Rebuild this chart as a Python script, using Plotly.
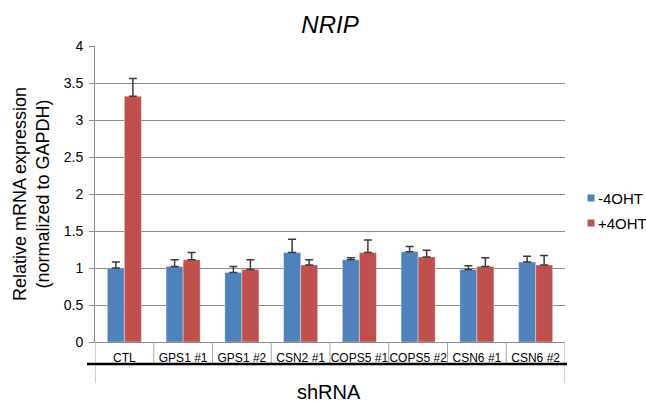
import plotly.graph_objects as go

# shRNA knockdowns and relative NRIP mRNA (normalized to GAPDH)
categories = ["CTL", "GPS1 #1", "GPS1 #2", "CSN2 #1", "COPS5 #1", "COPS5 #2", "CSN6 #1", "CSN6 #2"]
minus_4oht = [1.00, 1.02, 0.94, 1.21, 1.11, 1.22, 0.98, 1.08]
minus_4oht_err = [0.08, 0.09, 0.08, 0.18, 0.03, 0.07, 0.05, 0.08]
plus_4oht = [3.32, 1.11, 0.98, 1.04, 1.21, 1.15, 1.02, 1.04]
plus_4oht_err = [0.24, 0.10, 0.13, 0.07, 0.17, 0.09, 0.12, 0.13]
y_ticks = [0, 0.5, 1, 1.5, 2, 2.5, 3, 3.5, 4]

BLUE = "#4F81BD"
RED = "#C0504D"
FONT = "Liberation Sans, Arial, sans-serif"
GRID = "#8c8c8c"

W, H = 646, 403
ML, MR, MT, MB = 95, 81, 46, 61
PH = H - MT - MB  # plot height in px
PW = W - ML - MR


def py(px):
    """pixel offset below the plot bottom -> paper y"""
    return -px / PH


def errbar(vals):
    return dict(type="data", array=vals, arrayminus=[0] * len(vals), symmetric=False,
                color="#3a3a3a", thickness=1.5, width=4)


fig = go.Figure()
fig.add_trace(go.Bar(x=categories, y=minus_4oht, name="-4OHT", marker_color=BLUE,
                     marker_line=dict(color="rgba(255,255,255,0.35)", width=1),
                     error_y=errbar(minus_4oht_err), showlegend=False))
fig.add_trace(go.Bar(x=categories, y=plus_4oht, name="+4OHT", marker_color=RED,
                     marker_line=dict(color="rgba(255,255,255,0.35)", width=1),
                     error_y=errbar(plus_4oht_err), showlegend=False))

shapes = []
# category separators in the label row
for i in range(len(categories) + 1):
    x = i - 0.5
    end = 41 if i in (0, len(categories)) else 21
    shapes.append(dict(type="line", xref="x", yref="paper", x0=x, x1=x, y0=0, y1=py(end),
                       line=dict(color="#a6a6a6", width=1)))
# heavy rule under the category labels
shapes.append(dict(type="line", xref="paper", yref="paper", x0=-8 / PW, x1=1 + 2 / PW,
                   y0=py(22), y1=py(22), line=dict(color="black", width=2.5)))

annotations = [
    dict(text="Relative mRNA expression<br>(normalized to GAPDH)", xref="paper", yref="paper",
         x=-64 / PW, y=0.5, textangle=-90, showarrow=False, xanchor="center", yanchor="middle",
         font=dict(family=FONT, size=18, color="black")),
    dict(text="shRNA", xref="paper", yref="paper", x=0.498, y=py(50), showarrow=False,
         xanchor="center", yanchor="middle", font=dict(family=FONT, size=20, color="black")),
]

# legend: small squares with labels
legend_items = [("-4OHT", BLUE, 198), ("+4OHT", RED, 223)]
for label, color, yc in legend_items:
    cx = ML + PW + 26
    yp = (H - MB - yc) / PH
    shapes.append(dict(type="rect", xref="paper", yref="paper",
                       x0=(cx - ML - 3.5) / PW, x1=(cx - ML + 3.5) / PW,
                       y0=yp - 3.5 / PH, y1=yp + 3.5 / PH,
                       fillcolor=color, line=dict(width=0)))
    annotations.append(dict(text=label, xref="paper", yref="paper", x=(cx - ML + 5) / PW, y=yp,
                            xanchor="left", yanchor="middle", showarrow=False,
                            font=dict(family=FONT, size=15, color="black")))

fig.update_layout(
    width=W, height=H,
    margin=dict(l=ML, r=MR, t=MT, b=MB),
    paper_bgcolor="white", plot_bgcolor="white",
    barmode="group", bargap=0.42, bargroupgap=0,
    title=dict(text="<i>NRIP</i>", x=(ML + PW / 2) / W, xanchor="center", y=1 - 25 / H,
               yanchor="middle", font=dict(family=FONT, size=24, color="black")),
    shapes=shapes, annotations=annotations,
    font=dict(family=FONT, color="black"),
)
fig.update_xaxes(range=[-0.5, len(categories) - 0.5], showgrid=False, ticks="",
                 showline=True, linecolor=GRID, linewidth=1, tickangle=0,
                 tickfont=dict(family=FONT, size=12, color="black"), ticklabelstandoff=5)
fig.update_yaxes(range=[0, 4], tickvals=y_ticks, ticktext=[f"{v:g}" for v in y_ticks],
                 showgrid=True, gridcolor=GRID, gridwidth=1, zeroline=False,
                 showline=True, linecolor=GRID, linewidth=1,
                 ticks="outside", ticklen=5, tickcolor=GRID,
                 tickfont=dict(family=FONT, size=14, color="black"), ticklabelstandoff=3)

fig.write_html("out.html")
